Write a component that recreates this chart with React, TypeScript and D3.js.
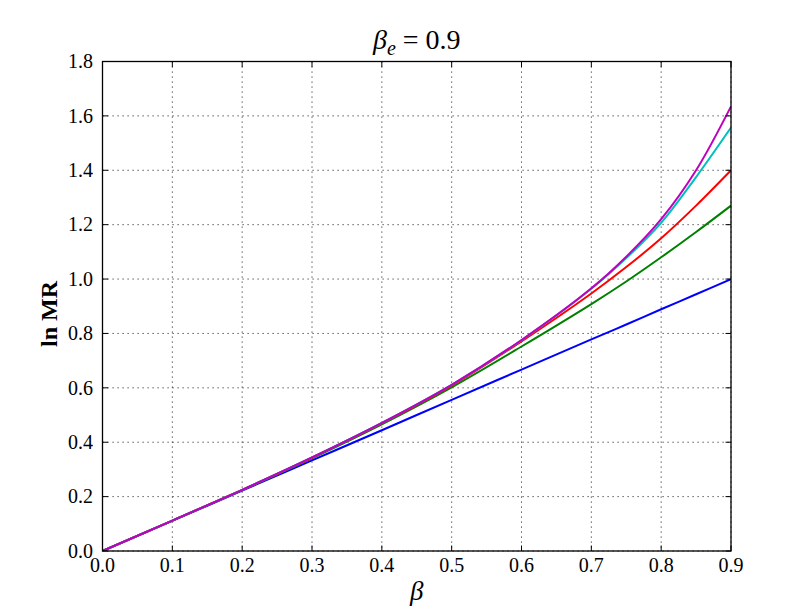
import React from "react";
import * as d3 from "d3";

const betas = [0, 0.1, 0.2, 0.3, 0.4, 0.5, 0.6, 0.7, 0.75, 0.8, 0.85, 0.9];
const blueVals = [0, 0.111, 0.222, 0.333, 0.444, 0.556, 0.667, 0.778, 0.833, 0.889, 0.944, 1.0];
const greenVals = [0, 0.112, 0.224, 0.341, 0.466, 0.602, 0.752, 0.908, 0.991, 1.08, 1.173, 1.27];
const redVals = [0, 0.112, 0.225, 0.343, 0.469, 0.608, 0.771, 0.947, 1.044, 1.15, 1.27, 1.4];
const cyanVals = [0, 0.112, 0.225, 0.344, 0.471, 0.611, 0.775, 0.964, 1.077, 1.207, 1.375, 1.557];
const magentaVals = [0, 0.112, 0.225, 0.344, 0.471, 0.611, 0.776, 0.966, 1.082, 1.22, 1.4, 1.635];

const seriesList = [
  { name: "blue", values: blueVals, color: "#0000ff" },
  { name: "green", values: greenVals, color: "#008000" },
  { name: "red", values: redVals, color: "#ff0000" },
  { name: "cyan", values: cyanVals, color: "#00bfbf" },
  { name: "magenta", values: magentaVals, color: "#bf00bf" },
];

const xTicks = [0, 0.1, 0.2, 0.3, 0.4, 0.5, 0.6, 0.7, 0.8, 0.9];
const yTicks = [0, 0.2, 0.4, 0.6, 0.8, 1.0, 1.2, 1.4, 1.6, 1.8];

const W = 812;
const H = 612;
const left = 102.5;
const right = 731;
const top = 61.5;
const bottom = 551;
const font = "Liberation Serif, DejaVu Serif, serif";

export default function App() {
  const x = d3.scaleLinear().domain([0, 0.9]).range([left, right]);
  const y = d3.scaleLinear().domain([0, 1.8]).range([bottom, top]);
  const line = d3
    .line<number>()
    .x((_, i) => x(betas[i]))
    .y((d) => y(d))
    .curve(d3.curveCatmullRom.alpha(0.5));
  const tl = 5.5;
  return (
    <svg
      width={W}
      height={H}
      style={{ position: "absolute", left: 0, top: 0, background: "#fff", fontFamily: font }}
    >
      <rect x={0} y={0} width={W} height={H} fill="#fff" />
      <defs>
        <clipPath id="clipArea">
          <rect x={left} y={top} width={right - left} height={bottom - top} />
        </clipPath>
      </defs>
      {/* grid */}
      {xTicks.map((t) => (
        <line
          key={"gx" + t}
          x1={x(t)}
          x2={x(t)}
          y1={top}
          y2={bottom}
          stroke="#000"
          strokeWidth={0.8}
          strokeDasharray="1.2,3.8"
        />
      ))}
      {yTicks.map((t) => (
        <line
          key={"gy" + t}
          x1={left}
          x2={right}
          y1={y(t)}
          y2={y(t)}
          stroke="#000"
          strokeWidth={0.8}
          strokeDasharray="1.2,3.8"
        />
      ))}
      {/* lines */}
      <g clipPath="url(#clipArea)">
        {seriesList.map((s) => (
          <path
            key={s.name}
            d={line(s.values) || ""}
            fill="none"
            stroke={s.color}
            strokeWidth={2}
          />
        ))}
      </g>
      {/* ticks */}
      {xTicks.map((t) => (
        <g key={"tx" + t}>
          <line x1={x(t)} x2={x(t)} y1={bottom} y2={bottom - tl} stroke="#000" strokeWidth={1} />
          <line x1={x(t)} x2={x(t)} y1={top} y2={top + tl} stroke="#000" strokeWidth={1} />
          <text
            x={x(t)}
            y={572}
            textAnchor="middle"
            style={{ fontFamily: font, fontSize: "20px" }}
            fill="#000"
          >
            {t.toFixed(1)}
          </text>
        </g>
      ))}
      {yTicks.map((t) => (
        <g key={"ty" + t}>
          <line x1={left} x2={left + tl} y1={y(t)} y2={y(t)} stroke="#000" strokeWidth={1} />
          <line x1={right} x2={right - tl} y1={y(t)} y2={y(t)} stroke="#000" strokeWidth={1} />
          <text
            x={93}
            y={y(t) + 6.8}
            textAnchor="end"
            style={{ fontFamily: font, fontSize: "20px" }}
            fill="#000"
          >
            {t.toFixed(1)}
          </text>
        </g>
      ))}
      {/* frame */}
      <rect
        x={left}
        y={top}
        width={right - left}
        height={bottom - top}
        fill="none"
        stroke="#000"
        strokeWidth={1.3}
      />
      {/* title */}
      <text
        x={(left + right) / 2}
        y={49}
        textAnchor="middle"
        style={{ fontFamily: font, fontSize: "28px" }}
        fill="#000"
      >
        <tspan fontStyle="italic">β</tspan>
        <tspan fontStyle="italic" style={{ fontSize: "20px" }} dy={6}>e</tspan>
        <tspan dy={-6}> = 0.9</tspan>
      </text>
      {/* x label */}
      <text
        x={(left + right) / 2}
        y={600}
        textAnchor="middle"
        style={{ fontFamily: font, fontSize: "27px", fontStyle: "italic" }}
        fill="#000"
      >
        β
      </text>
      {/* y label */}
      <text
        transform={`translate(57, 314) rotate(-90)`}
        textAnchor="middle"
        style={{ fontFamily: font, fontSize: "24px", fontWeight: "bold" }}
        fill="#000"
      >
        ln MR
      </text>
    </svg>
  );
}
